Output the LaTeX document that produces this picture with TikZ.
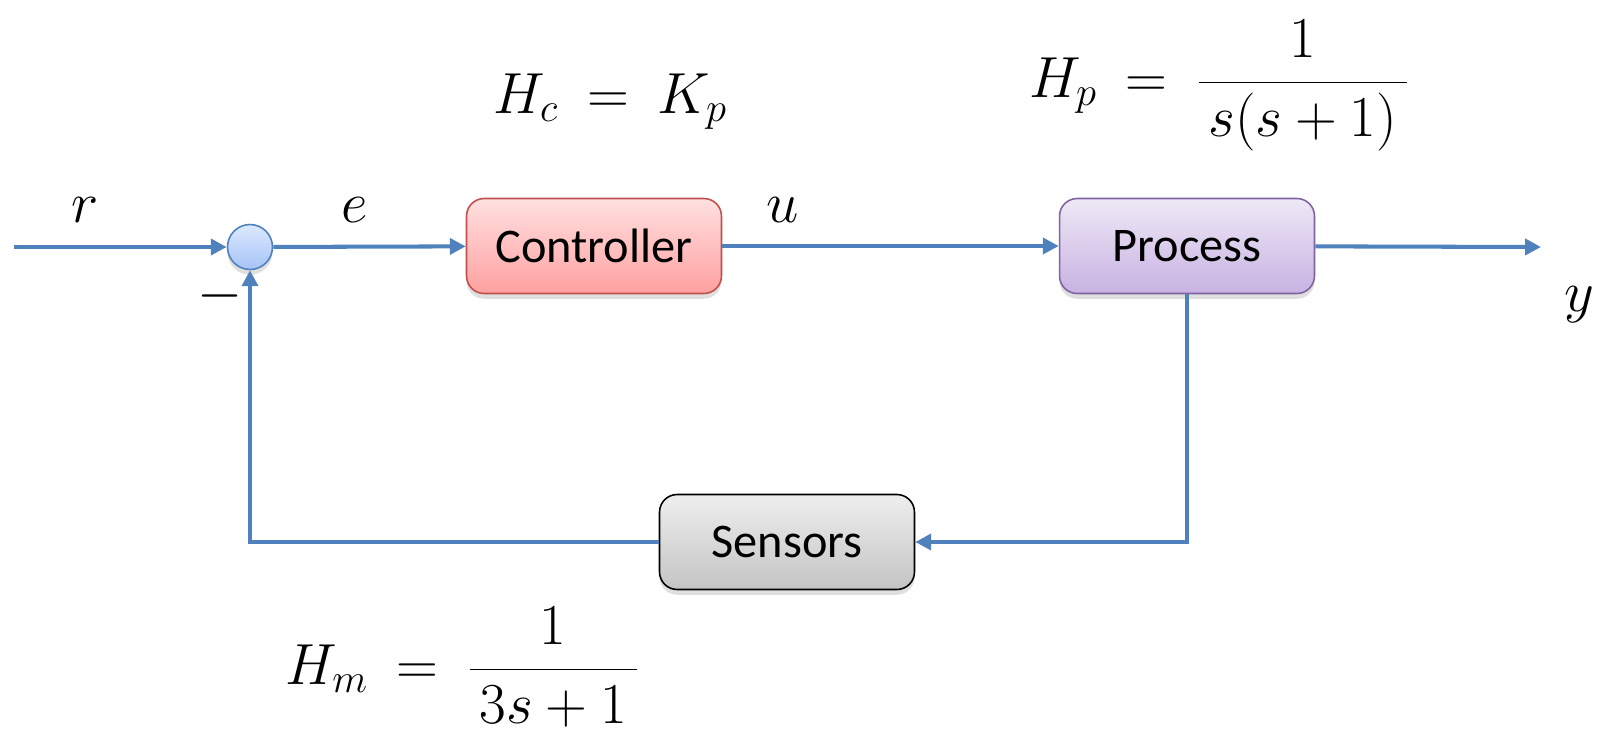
\RequirePackage{fix-cm}
\documentclass[tikz,border=0pt]{standalone}
\usepackage{amsmath}
\usepackage{fontspec}
\setmainfont{Carlito}
\usetikzlibrary{arrows.meta, positioning, shadows}
\definecolor{flowblue}{RGB}{79,129,189}
\definecolor{ctrlred}{RGB}{192,80,77}
\definecolor{procviolet}{RGB}{128,100,162}
\thickmuskip=9mu plus 5mu

\begin{document}
\begin{tikzpicture}[
    x=0.02cm, y=-0.02cm,
    >={Triangle[length=9pt,width=9pt]},
    sig/.style={draw=flowblue, line width=2.3pt},
    block/.style={rectangle, rounded corners=10pt, line width=0.9pt, minimum width=5.1cm, minimum height=1.9cm, inner sep=0pt, font=\fontsize{27.5}{32}\selectfont, drop shadow={opacity=0.25, shadow xshift=0pt, shadow yshift=-3pt}},
    sumpoint/.style={circle, draw=flowblue, line width=0.9pt, minimum size=0.9cm, inner sep=0pt, top color={rgb,255:red,220;green,232;blue,254}, bottom color={rgb,255:red,166;green,196;blue,246}, drop shadow={opacity=0.25, shadow xshift=0pt, shadow yshift=-3pt}},
    lbl/.style={font=\fontsize{33}{40}\selectfont}
  ]
    \useasboundingbox (0,0) rectangle (1605,735);

    % blocks
    \node[sumpoint] (sum) at (250,247) {};
    \node[block, draw=ctrlred, top color={rgb,255:red,255;green,224;blue,224}, bottom color={rgb,255:red,255;green,160;blue,160}] (ctrl) at (594,246) {Controller};
    \node[block, draw=procviolet, top color={rgb,255:red,238;green,232;blue,246}, bottom color={rgb,255:red,200;green,178;blue,226}] (proc) at (1187,246) {Process};
    \node[block, draw=black, top color={rgb,255:red,238;green,238;blue,238}, bottom color={rgb,255:red,196;green,196;blue,196}] (sens) at (787,542) {Sensors};

    \coordinate (in) at (14,247);
    \coordinate (out) at (1541,247);

    % signals
    \draw[sig, ->] (in) -- (sum);
    \draw[sig, ->] (sum) -- (ctrl);
    \draw[sig, ->] (ctrl) -- (proc);
    \draw[sig, ->] (proc) -- (out);
    \draw[sig, ->] (proc.south) |- (sens.east);
    \draw[sig, ->] (sens.west) -| (sum.south);

    % signal names
    \node[lbl, anchor=base] (r) at (85,222) {$r$};
    \node[lbl, anchor=base] (e) at (355,222) {$e$};
    \node[lbl, anchor=base] (u) at (783,222) {$u$};
    \node[lbl, anchor=base] (y) at (1579,311) {$y$};
    \node[lbl] (minus) at (220,296) {$-$};

    % transfer functions
    \node[lbl, anchor=base] (hc) at (610,113) {$H_c = K_p$};
    \node[lbl, anchor=base] (hp) at (1219,97) {$H_p = \dfrac{1}{\,s(s+1)\,}$};
    \node[lbl, anchor=base] (hm) at (462,684) {$H_m = \dfrac{1}{\,3s+1\,}$};
  \end{tikzpicture}
\end{document}
